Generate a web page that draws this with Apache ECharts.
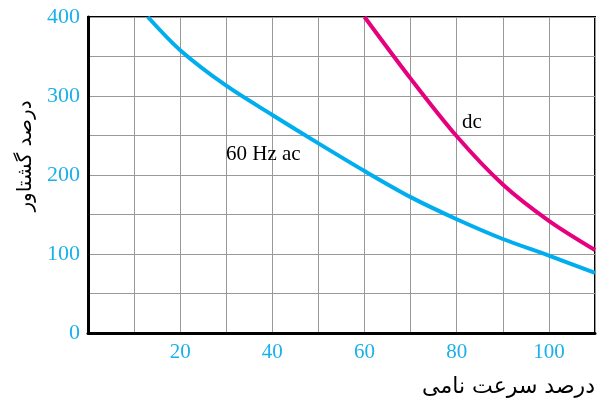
<!DOCTYPE html>
<html><head><meta charset="utf-8">
<script src="https://cdn.jsdelivr.net/npm/echarts@6/dist/echarts.min.js"></script>
<style>html,body{margin:0;padding:0;background:#fff}#c{width:598px;height:405px}</style>
</head><body><div id="c"></div>
<script>
const acSpeed  = [13, 20, 30, 40, 50, 60, 70, 80, 90, 100, 110];
const acTorque = [400, 358, 313, 276, 240, 205, 172, 144, 119, 98, 76];
const dcSpeed  = [60, 70, 80, 90, 100, 110];
const dcTorque = [400, 322, 249, 188, 142, 105];
const xTicks = [20, 40, 60, 80, 100];
const yTicks = [0, 100, 200, 300, 400];
const xTitle = 'درصد سرعت نامی';
const yTitle = 'درصد گشتاور';
const acName = '60 Hz ac';
const dcName = 'dc';

const chart = echarts.init(document.getElementById('c'));
const lblColor = '#1ab0ea';
const serif = 'Liberation Serif';
chart.setOption({
  animation: false,
  grid: {left: 88, right: 2, top: 17, bottom: 72, show: true, borderColor: '#000', borderWidth: 2},
  xAxis: {
    type: 'value', min: 0, max: 110, interval: 10,
    axisLine: {show: true, onZero: false, lineStyle: {color: '#000', width: 3}},
    axisTick: {show: false},
    splitLine: {show: true, lineStyle: {color: '#999', width: 1}},
    axisLabel: {color: lblColor, fontFamily: serif, fontSize: 21, margin: 9,
      formatter: v => xTicks.includes(v) ? String(v) : ''}
  },
  yAxis: {
    type: 'value', min: 0, max: 400, interval: 50,
    axisLine: {show: true, lineStyle: {color: '#000', width: 3}},
    axisTick: {show: false},
    splitLine: {show: true, lineStyle: {color: '#999', width: 1}},
    axisLabel: {color: lblColor, fontFamily: serif, fontSize: 22, margin: 8,
      formatter: v => yTicks.includes(v) ? String(v) : ''}
  },
  series: [
    {type: 'line', smooth: 0.3, symbol: 'none', data: acSpeed.map((x, i) => [x, acTorque[i]]),
     lineStyle: {color: '#00aeef', width: 4}, z: 5},
    {type: 'line', smooth: 0.3, symbol: 'none', data: dcSpeed.map((x, i) => [x, dcTorque[i]]),
     lineStyle: {color: '#e6007e', width: 4}, z: 5}
  ],
  graphic: [
    {type: 'text', left: 226, top: 144, style: {text: acName, font: '21px "Liberation Serif"', fill: '#000'}, z: 10},
    {type: 'text', left: 462, top: 112, style: {text: dcName, font: '21px "Liberation Serif"', fill: '#000'}, z: 10},
    {type: 'text', x: 595, y: 387, style: {text: xTitle, font: '22px "DejaVu Sans"', fill: '#000', align: 'right', verticalAlign: 'middle'}, z: 10},
    {type: 'text', x: 26, y: 156, rotation: Math.PI / 2, style: {text: yTitle, font: '20px "DejaVu Sans"', fill: '#000', align: 'center', verticalAlign: 'middle'}, z: 10}
  ]
});
</script></body></html>
